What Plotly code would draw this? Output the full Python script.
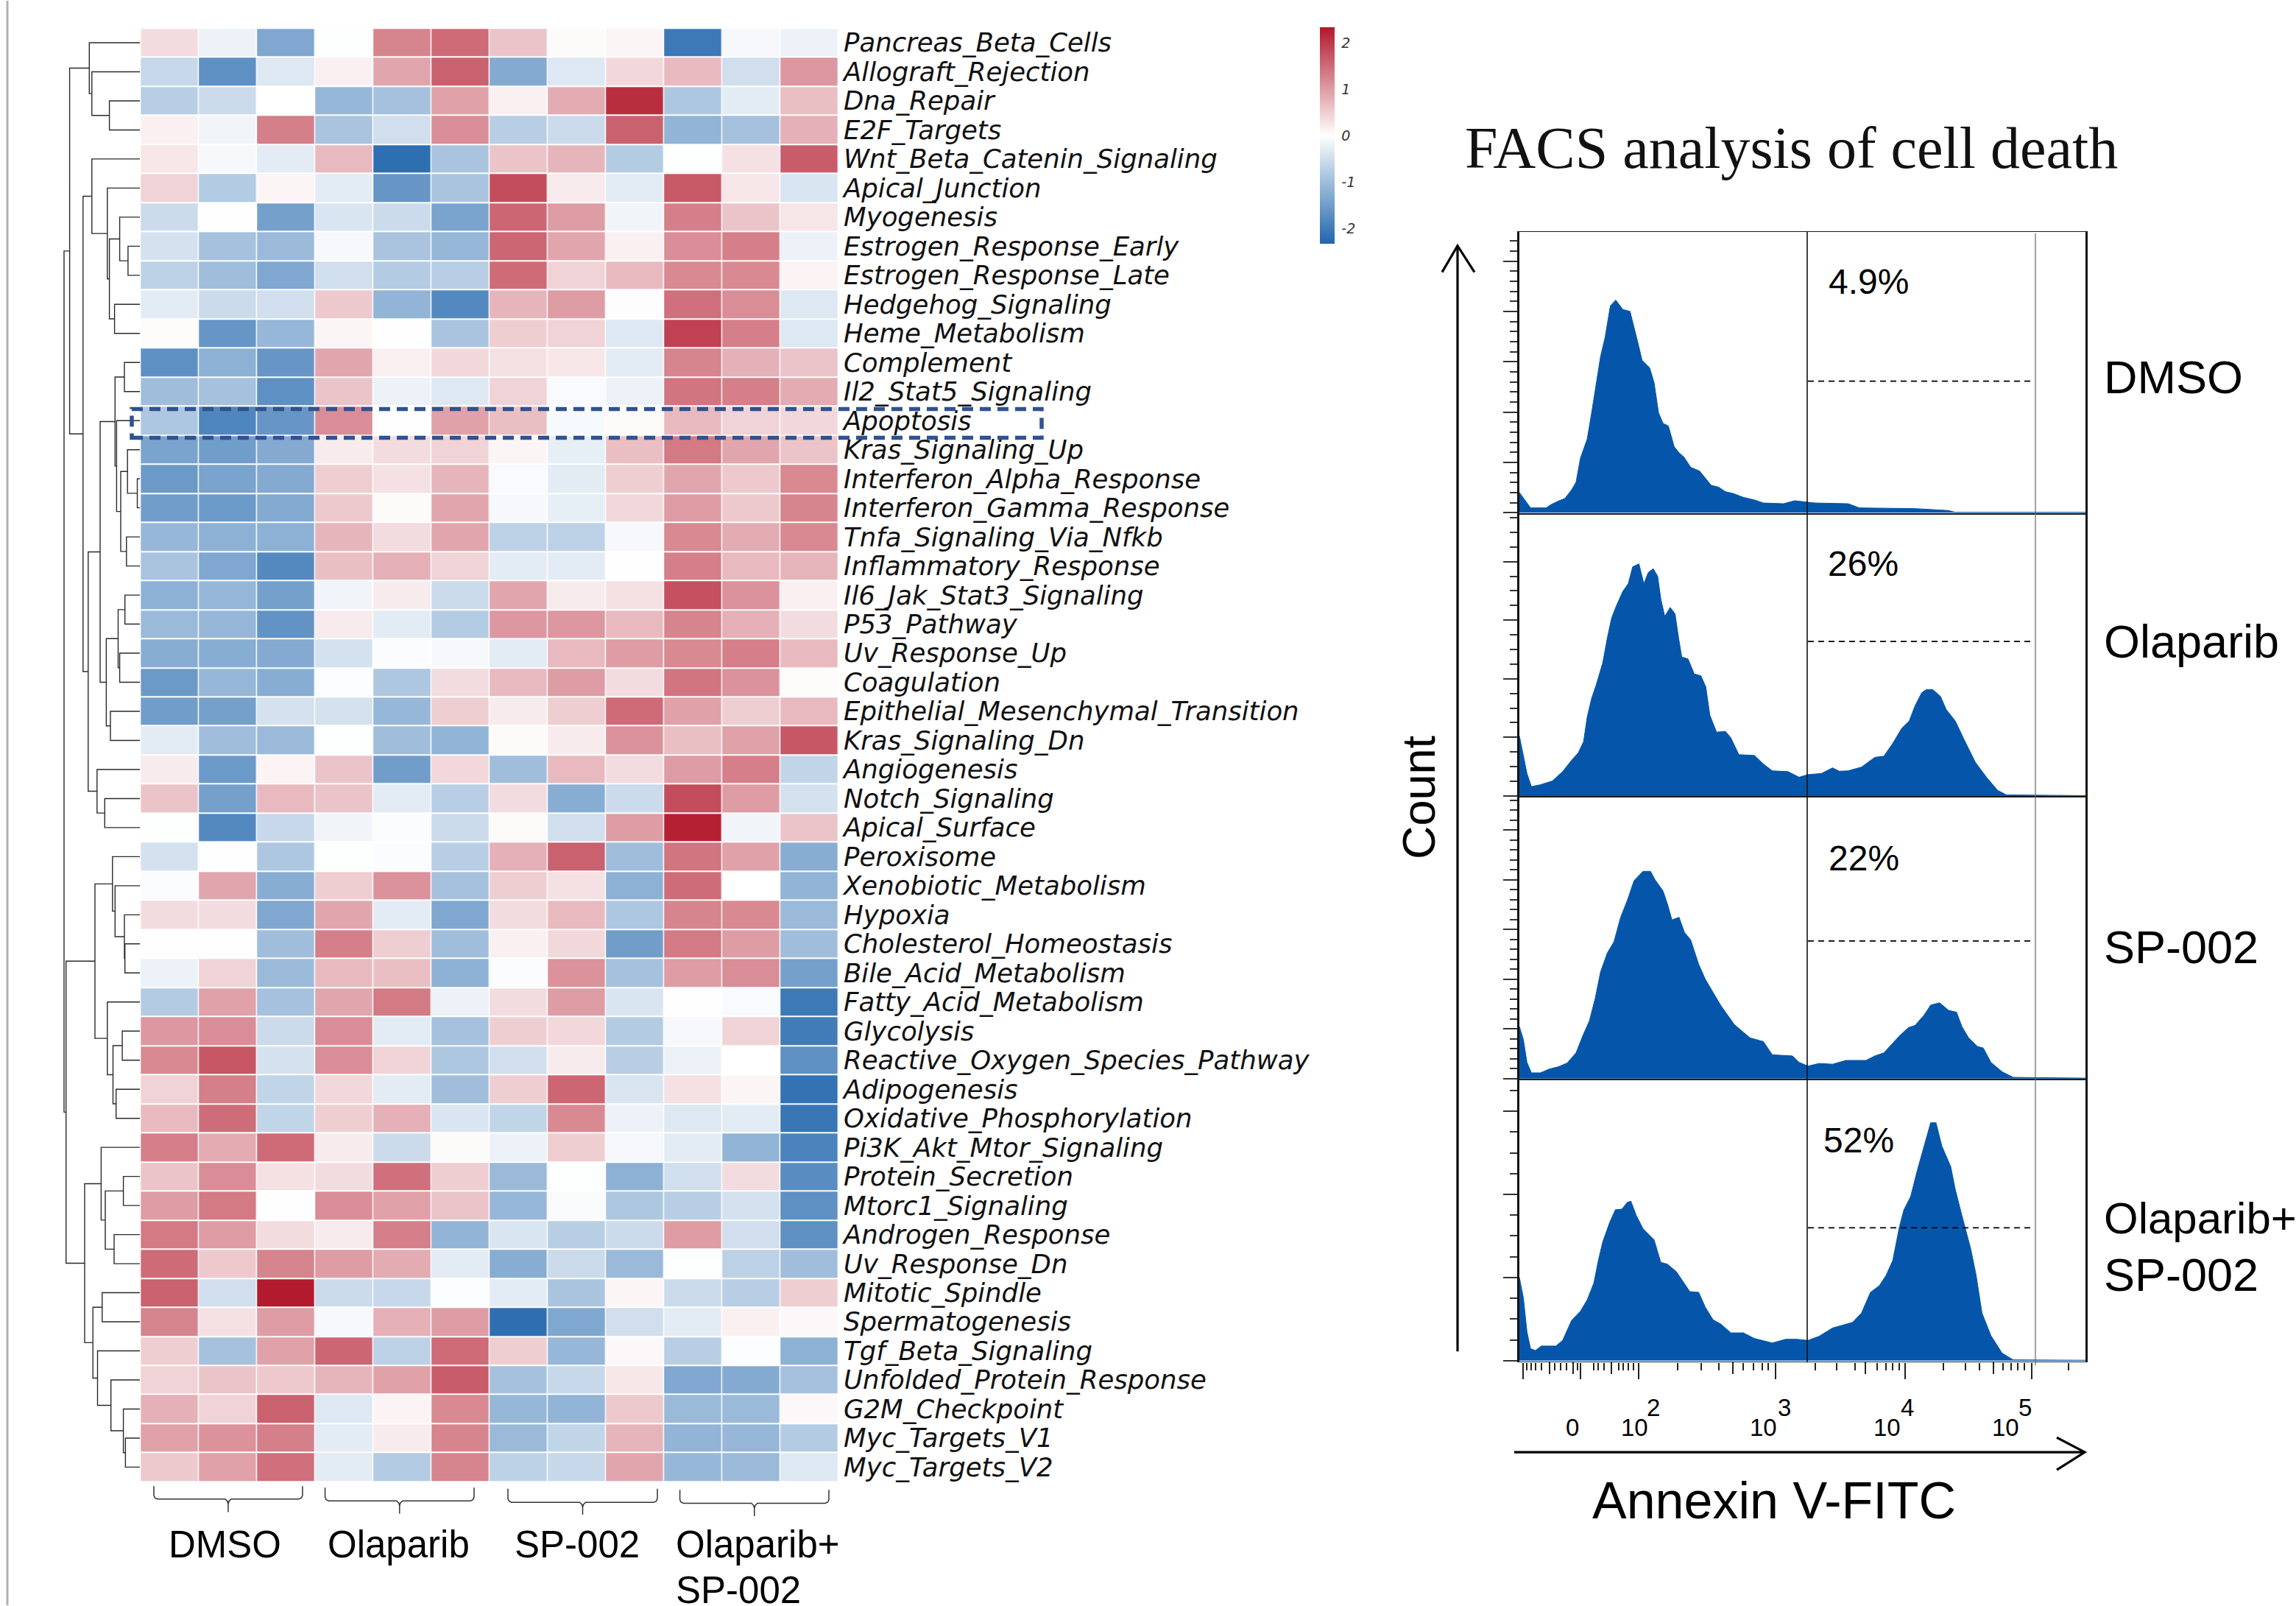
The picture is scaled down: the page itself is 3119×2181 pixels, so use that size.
import numpy as np
import plotly.graph_objects as go

W, H = 3119, 2181

pathways = ["Pancreas_Beta_Cells","Allograft_Rejection","Dna_Repair","E2F_Targets","Wnt_Beta_Catenin_Signaling",
"Apical_Junction","Myogenesis","Estrogen_Response_Early","Estrogen_Response_Late","Hedgehog_Signaling",
"Heme_Metabolism","Complement","Il2_Stat5_Signaling","Apoptosis","Kras_Signaling_Up","Interferon_Alpha_Response",
"Interferon_Gamma_Response","Tnfa_Signaling_Via_Nfkb","Inflammatory_Response","Il6_Jak_Stat3_Signaling","P53_Pathway",
"Uv_Response_Up","Coagulation","Epithelial_Mesenchymal_Transition","Kras_Signaling_Dn","Angiogenesis","Notch_Signaling",
"Apical_Surface","Peroxisome","Xenobiotic_Metabolism","Hypoxia","Cholesterol_Homeostasis","Bile_Acid_Metabolism",
"Fatty_Acid_Metabolism","Glycolysis","Reactive_Oxygen_Species_Pathway","Adipogenesis","Oxidative_Phosphorylation",
"Pi3K_Akt_Mtor_Signaling","Protein_Secretion","Mtorc1_Signaling","Androgen_Response","Uv_Response_Dn","Mitotic_Spindle",
"Spermatogenesis","Tgf_Beta_Signaling","Unfolded_Protein_Response","G2M_Checkpoint","Myc_Targets_V1","Myc_Targets_V2"]

scores = [
[0.35,-0.2,-1.35,-0.02,1.25,1.5,0.6,0.05,0.1,-2.05,-0.1,-0.2],
[-0.6,-1.7,-0.35,0.15,0.9,1.6,-1.3,-0.35,0.4,0.7,-0.5,1.05],
[-0.75,-0.55,0,-1.1,-0.95,0.95,0.15,0.85,2.12,-0.85,-0.3,0.65],
[0.15,-0.15,1.3,-0.9,-0.5,1.15,-0.75,-0.55,1.6,-1.15,-0.95,0.8],
[0.25,-0.1,-0.3,0.7,-2.2,-0.9,0.6,0.75,-0.8,-0.02,0.3,1.65],
[0.45,-0.8,0.1,-0.3,-1.6,-0.9,1.8,0.2,-0.3,1.68,0.25,-0.4],
[-0.55,0.01,-1.45,-0.4,-0.55,-1.4,1.55,1.0,-0.15,1.3,0.6,0.25],
[-0.45,-0.95,-1.05,-0.1,-0.9,-1.1,1.55,0.9,0.15,1.15,1.3,-0.2],
[-0.7,-1.0,-1.35,-0.5,-0.8,-0.75,1.5,0.45,0.7,1.2,1.2,0.12],
[-0.3,-0.55,-0.5,0.55,-1.15,-1.8,0.75,1.0,0.02,1.45,1.15,-0.35],
[0.04,-1.6,-1.1,0.1,0.01,-0.9,0.5,0.45,-0.35,1.92,1.3,-0.35],
[-1.7,-1.2,-1.6,0.9,0.15,0.4,0.3,0.25,-0.3,1.25,0.8,0.6],
[-1.0,-0.95,-1.7,0.6,-0.2,-0.35,0.45,-0.07,-0.2,1.4,1.3,0.85],
[-0.85,-1.85,-1.6,1.15,-0.01,0.95,0.65,-0.08,0.05,0.7,0.45,0.4],
[-1.4,-1.5,-1.3,0.2,0.35,0.45,0.1,-0.25,0.65,1.35,0.9,0.6],
[-1.55,-1.4,-1.3,0.5,0.3,0.75,-0.07,-0.3,0.5,0.9,0.55,1.2],
[-1.5,-1.55,-1.3,0.55,0.05,0.9,-0.1,-0.25,0.4,1.0,0.55,1.25],
[-1.1,-1.2,-1.2,0.75,0.35,0.9,-0.7,-0.7,-0.1,1.2,0.85,1.2],
[-0.9,-1.35,-1.8,0.65,0.8,0.45,-0.3,-0.3,-0.01,1.3,0.7,0.75],
[-1.2,-1.1,-1.45,-0.15,0.2,-0.55,0.9,0.2,0.3,1.77,1.1,0.15],
[-1.05,-1.1,-1.65,0.2,-0.3,-0.8,1.05,1.05,0.7,1.25,0.8,0.35],
[-1.25,-1.25,-1.3,-0.45,-0.05,-0.1,-0.3,0.7,1.0,1.2,1.3,0.7],
[-1.55,-1.1,-1.25,-0.03,-0.85,0.35,0.7,1.0,0.35,1.4,1.1,0.04],
[-1.5,-1.45,-0.45,-0.45,-1.1,0.5,0.2,0.5,1.5,0.95,0.5,0.7],
[-0.3,-1.0,-1.05,-0.02,-1.0,-1.15,0.05,0.2,1.1,0.65,0.95,1.7],
[0.2,-1.55,0.12,0.6,-1.5,0.4,-1.0,0.7,0.35,1.0,1.3,-0.65],
[0.6,-1.45,0.7,0.6,-0.3,-0.75,0.35,-1.25,-0.55,1.8,1.0,-0.45],
[-0.02,-1.8,-0.6,-0.15,-0.05,-0.55,0.05,-0.5,1.0,2.25,-0.15,0.6],
[-0.45,0.01,-0.85,-0.02,-0.05,-0.75,0.8,1.6,-1.0,1.4,0.95,-1.25],
[-0.05,0.9,-1.25,0.5,1.1,-0.95,0.5,0.3,-1.2,1.48,0.0,-1.15],
[0.35,0.35,-1.35,0.9,-0.3,-1.35,0.35,0.7,-0.85,1.25,1.2,-1.05],
[-0.01,0.01,-1.0,1.3,0.5,-1.0,0.15,0.4,-1.5,1.35,1.0,-1.0],
[-0.2,0.45,-1.05,0.7,0.65,-1.2,-0.05,1.1,-0.95,1.0,1.15,-1.45],
[-0.8,0.95,-0.95,0.9,1.35,-0.2,0.35,1.0,-0.4,0.01,-0.07,-2.05],
[1.05,1.15,-0.55,1.15,-0.3,-0.95,0.5,0.4,-0.8,-0.1,0.45,-2.0],
[1.2,1.7,-0.45,1.15,0.45,-0.85,-0.5,0.2,-0.75,-0.2,0.0,-1.7],
[0.45,1.3,-0.65,0.4,-0.3,-1.0,0.5,1.55,-0.4,0.3,0.1,-2.15],
[0.7,1.48,-0.65,0.5,0.8,-0.4,-0.65,1.2,-0.2,-0.35,-0.3,-2.1],
[1.3,0.85,1.5,0.2,-0.55,0.05,-0.2,0.5,-0.1,-0.3,-1.15,-1.9],
[0.6,1.15,0.3,0.35,1.45,0.5,-1.05,-0.02,-1.2,-0.5,0.35,-1.75],
[1.0,1.35,-0.01,1.15,0.95,0.6,-1.1,-0.06,-0.85,-0.75,-0.45,-1.7],
[1.35,1.0,0.35,0.2,1.3,-1.15,-0.4,-0.75,-0.55,1.0,-0.5,-1.7],
[1.5,0.55,1.25,1.0,0.85,-0.3,-1.25,-0.55,-1.05,-0.02,-0.7,-1.0],
[1.6,-0.5,2.32,-0.55,-0.6,-0.03,-0.3,-0.9,0.1,-0.55,-0.75,0.5],
[1.25,0.3,1.0,-0.1,0.8,1.0,-2.2,-1.35,-0.5,-0.3,0.15,0.08],
[0.5,-0.95,0.95,1.55,-0.7,1.5,0.5,-1.1,0.08,-0.75,-0.03,-1.2],
[0.45,0.6,0.55,0.75,0.95,1.65,-0.95,-0.6,0.25,-1.35,-1.3,-0.95],
[0.8,0.45,1.6,-0.35,0.12,1.2,-1.1,-1.15,0.55,-1.05,-1.05,0.08],
[0.95,1.1,1.3,-0.3,0.2,1.25,-1.05,-0.65,0.75,-1.15,-1.1,-0.8],
[0.55,0.95,1.45,-0.3,-0.8,1.25,-0.7,-0.6,0.9,-1.1,-1.05,-0.35],
]

# Row clustering: each node is [child, child, merge distance]; leaves are row numbers.
upper_a = [0, [1, [2, 3, 41.4], 65.2], 68.7]
upper_b = [4, [5, [[6, [7, 8, 16.1], 27.4], [9, 10, 34.4], 41.4], 44.2], 65.2]
mid_g = [13, [[14, [15, 16, 3.5], 16.8], [17, 18, 18.2], 26.0], 31.6]
mid_f = [[11, 12, 21.0], mid_g, 33.7]
mid_h = [[[19, 20, 20.3], [21, 22, 27.4], 29.5], [23, 24, 40.0], 45.6]
mid_d = [mid_f, mid_h, 54.0]
mid_e = [25, [26, 27, 47.7], 58.2]
upper = [upper_a, [upper_b, [mid_d, mid_e, 70.2], 77.2], 95.4]
low_j = [28, [29, [30, [31, 32, 20.3], 21.0], 33.7], 37.2]
low_k = [33, [[34, 35, 23.9], [36, 37, 32.3], 36.5], 44.2]
low_o = [38, [[39, 40, 22.4], [41, 42, 35.0], 47.0], 52.6]
low_r = [45, [46, [47, [48, 49, 19.6], 22.4], 39.3], 57.5]
low_q = [[43, 44, 51.2], low_r, 63.8]
tree = [upper, [[low_j, low_k, 61.0], [low_o, low_q, 75.0], 100.3], 103.0]

group_names = ["DMSO", "Olaparib", "SP-002"]
group_last = ["Olaparib+", "SP-002"]
cbar_ticks = [2, 1, 0, -1, -2]
cbar_text = ["2", "1", "0", "-1", "-2"]
facs_title = "FACS analysis of cell death"

# FACS histograms: channel (arbitrary linear display channel) and count
ch_dmso = [0,8,17,25,60,70,87,102,117,127,137,152,162,172,182,192,204,216,232,248,257,267,275,292,302,312,322,334,347,357,369,384,404,417,430,447,462,480,502,527,547,592,617,662,737,762,887,962,977,1269]
ct_dmso = [54,41,24,13,13,21,31,38,61,81,146,196,266,346,416,466,551,566,541,536,496,446,406,386,346,266,238,231,176,161,148,121,111,91,73,68,56,51,41,34,26,24,32,26,24,13,11,6,1,1]
ch_ola = [0,8,17,27,47,74,97,117,132,144,152,162,172,187,197,207,217,232,244,254,268,279,289,300,310,317,326,338,349,357,364,378,392,407,418,427,442,462,474,492,527,547,567,602,627,647,677,702,717,737,767,797,817,837,857,874,887,902,912,927,944,957,977,997,1022,1047,1072,1092,1269]
ct_ola = [160,110,60,25,30,40,65,95,115,145,210,260,295,355,420,475,505,545,565,610,618,565,595,605,585,525,478,502,485,420,370,365,325,320,290,215,170,172,155,110,108,85,67,65,50,57,60,75,66,67,77,103,106,140,180,200,240,275,283,283,265,230,200,150,90,50,15,3,1]
ch_sp = [0,9,17,27,47,67,87,107,127,142,157,170,182,197,212,227,242,257,277,294,304,322,332,342,358,370,384,402,417,432,452,482,502,517,547,567,612,627,647,672,702,732,777,797,817,852,872,887,907,922,942,962,980,992,1007,1027,1040,1057,1082,1107,1269]
ct_sp = [138,103,43,15,15,25,31,41,68,113,153,213,283,333,363,428,473,525,550,550,528,498,463,421,428,388,368,303,263,233,193,143,123,108,98,63,60,43,33,40,38,48,48,60,68,113,135,141,168,195,201,181,176,138,108,85,81,43,18,3,1]
ch_combo = [0,9,17,25,36,49,82,97,117,137,152,167,177,187,202,215,230,242,250,262,277,302,317,332,352,382,402,417,434,452,474,502,527,567,597,622,647,672,702,747,767,787,807,822,837,852,862,877,892,907,922,934,947,967,977,992,1012,1024,1037,1057,1082,1107,1269]
ct_combo = [222,167,77,32,27,39,39,54,107,132,162,207,267,317,367,402,404,422,425,387,352,322,262,257,237,184,182,142,109,97,74,74,59,47,57,57,54,65,87,102,127,182,200,227,267,357,402,437,507,572,634,634,572,517,457,387,297,227,127,67,20,2,1]
panel_ch = [ch_dmso, ch_ola, ch_sp, ch_combo]
panel_ct = [ct_dmso, ct_ola, ct_sp, ct_combo]
panel_pct = ["4.9%", "26%", "22%", "52%"]

major_step = [134.0, 156.0, 132.0, 221.5]
minor_div = [5, 4, 5, 4]
x_tall = [9,137,267,574,864,1149]
x_mid = [67,120,207,478,776,1062]
x_short = [17,27,37,50,80,92,105,130,167,177,190,222,232,244,255,355,408,448,502,524,544,557,663,712,752,802,822,837,852,950,1000,1032,1084,1102,1117,1132,1231]


def px(x):
    return x / W


def py(y):
    return 1 - y / H


fig = go.Figure()
Z = np.array(scores)
HM_L, HM_R, HM_T, HM_B = 191.2, 1139.0, 37.3, 2013.0

colorscale = [[0, "#2166ac"], [0.5, "#ffffff"], [1, "#b2182b"]]
fig.add_trace(go.Heatmap(z=Z, x=list(range(12)), y=list(range(50)), zmin=-2.34, zmax=2.34,
                         colorscale=colorscale, xgap=1.5, ygap=2, hoverinfo="skip",
                         colorbar=dict(lenmode="pixels", len=294, thicknessmode="pixels", thickness=20,
                                       x=px(1793), xanchor="left", y=py(183.5), yanchor="middle", outlinewidth=0,
                                       tickmode="array", tickvals=cbar_ticks, ticktext=cbar_text,
                                       ticks="outside", ticklen=6, tickcolor="rgba(0,0,0,0)",
                                       xpad=0, ypad=0,
                                       tickfont=dict(family="DejaVu Sans", size=19, color="#333333", style="italic"))))
fig.update_layout(
    xaxis=dict(domain=[px(HM_L), px(HM_R)], range=[-0.5, 11.5], visible=False),
    yaxis=dict(domain=[py(HM_B), py(HM_T)], range=[49.5, -0.5], side="right", tickmode="array",
               tickvals=list(range(50)), ticktext=pathways, showgrid=False, zeroline=False, showline=False,
               ticks="", anchor="x", ticklabelstandoff=6,
               tickfont=dict(family="DejaVu Sans", size=35.5, color="#111111", style="italic")))

# Dendrogram
dx, dy = [], []


def walk(node):
    if isinstance(node, int):
        return node, 0.0
    y1, d1 = walk(node[0])
    y2, d2 = walk(node[1])
    d = node[2]
    dx.extend([d1, d, d, d2, None])
    dy.extend([y1, y1, y2, y2, None])
    return (y1 + y2) / 2, d


walk(tree)
fig.add_trace(go.Scatter(x=dx, y=dy, mode="lines", line=dict(color="#2a2a2a", width=1.4),
                         xaxis="x2", yaxis="y2", hoverinfo="skip", showlegend=False))
fig.update_layout(
    xaxis2=dict(domain=[px(60), px(190)], range=[130, 0], visible=False, anchor="y2"),
    yaxis2=dict(domain=[py(HM_B), py(HM_T)], range=[49.5, -0.5], visible=False, anchor="x2"))

# FACS panels
FX0, FX1 = 2064, 2833
panel_tops = [314, 698, 1082, 1466]
panel_bots = [698, 1082, 1466, 1850]
panel_ranges = [[-4, 748], [-2, 750], [-2, 748], [-3, 750]]
for i in range(4):
    n = i + 3
    sx, sy = f"x{n}", f"y{n}"
    fig.add_trace(go.Scatter(x=panel_ch[i], y=panel_ct[i], mode="lines", fill="tozeroy", fillcolor="#0556ab",
                             line=dict(color="#0556ab", width=1), xaxis=sx, yaxis=sy,
                             hoverinfo="skip", showlegend=False))
    majors = np.arange(0, 745, major_step[i])
    minors = np.arange(0, 745, major_step[i] / minor_div[i])
    xa = dict(domain=[px(FX0), px(FX1)], range=[0, 1269], anchor=sy, showgrid=False, zeroline=False,
              showline=True, mirror=True, linecolor="#1a1a1a", linewidth=1.4, showticklabels=False)
    if i == 3:
        xa.update(tickmode="array", tickvals=x_tall, ticks="outside", ticklen=22, tickwidth=1.5, tickcolor="#222222",
                  minor=dict(tickmode="array", tickvals=x_short, ticks="outside", ticklen=10, tickwidth=1.5,
                             tickcolor="#222222"))
    else:
        xa.update(ticks="")
    ya = dict(domain=[py(panel_bots[i]), py(panel_tops[i])], range=panel_ranges[i], anchor=sx, showgrid=False,
              zeroline=False, showline=True, mirror=True, linecolor="#111111", linewidth=2.5, showticklabels=False,
              tickmode="array", tickvals=list(majors), ticks="outside", ticklen=19, tickwidth=1.8, tickcolor="#333333",
              minor=dict(tickmode="array", tickvals=list(minors), ticks="outside", ticklen=10, tickwidth=1.8,
                         tickcolor="#333333"))
    fig.update_layout(**{f"xaxis{n}": xa, f"yaxis{n}": ya})

# middle-length ticks on the bottom axis
fig.add_trace(go.Scatter(x=[0], y=[0], mode="none", xaxis="x7", yaxis="y6", hoverinfo="skip", showlegend=False))
fig.update_layout(xaxis7=dict(domain=[px(FX0), px(FX1)], range=[0, 1269], anchor="y6", overlaying="x6",
                              showgrid=False, zeroline=False, showline=False, showticklabels=False,
                              tickmode="array", tickvals=x_mid, ticks="outside", ticklen=16, tickwidth=1.5,
                              tickcolor="#222222"))

shapes, ann = [], []


def path_shape(points, color="#222222", width=2.0):
    d = "M " + " L ".join(f"{px(a):.6f},{py(b):.6f}" for a, b in points)
    shapes.append(dict(type="path", path=d, xref="paper", yref="paper", line=dict(color=color, width=width)))


def line_shape(x0, y0, x1, y1, color="#000000", width=1.5, dash="solid"):
    shapes.append(dict(type="line", xref="paper", yref="paper", x0=px(x0), y0=py(y0), x1=px(x1), y1=py(y1),
                       line=dict(color=color, width=width, dash=dash)))


def text(x, y, s, size, family="Liberation Sans", xanchor="center", color="#000000", angle=0):
    ann.append(dict(xref="paper", yref="paper", x=px(x), y=py(y), text=s, showarrow=False, xanchor=xanchor,
                    yanchor="middle", textangle=angle, align="left",
                    font=dict(family=family, size=size, color=color)))


# page edge line
line_shape(10, 0, 10, 2181, color="#b0b0b0", width=3)

# highlighted row box
shapes.append(dict(type="rect", xref="paper", yref="paper", x0=px(179), x1=px(1415), y0=py(594), y1=py(555),
                   line=dict(color="#2f5290", width=5.5, dash="15px,9px")))

# group braces
for x0, x1, y0, y1, y2 in [(209, 411, 2019, 2036.6, 2054.5), (441.6, 644, 2021, 2039, 2056.5),
                           (690, 893, 2022.5, 2041, 2058), (923.6, 1126, 2024, 2042.4, 2060)]:
    c = (x0 + x1) / 2
    pts = [(x0, y0), (x0, y1 - 5), (x0 + 1.5, y1 - 1.5), (x0 + 5, y1), (c - 4, y1), (c - 1, y1 + 3), (c, y1 + 7), (c, y2),
           (c, y1 + 7), (c + 1, y1 + 3), (c + 4, y1), (x1 - 5, y1), (x1 - 1.5, y1 - 1.5), (x1, y1 - 5), (x1, y0)]
    path_shape(pts, color="#333333", width=1.5)

text(305, 2098, group_names[0], 51)
text(541, 2098, group_names[1], 51)
text(784, 2098, group_names[2], 51)
text(916, 2098, group_last[0], 51, xanchor="left")
text(916, 2160, group_last[1], 51, xanchor="left")

text(1988, 200, facs_title, 80, family="Liberation Serif", xanchor="left", color="#111111")
text(1927, 1083, "Count", 63, angle=-90)
text(2410, 2039, "Annexin V-FITC", 70)

# gates
line_shape(2455, 314, 2455, 1851, color="#111111", width=1.6)
line_shape(2765, 316, 2765, 1855, color="#666666", width=1.2)
for y in [517, 871, 1278, 1668]:
    line_shape(2456, y, 2761, y, color="#000000", width=1.8, dash="8px,6px")

for (x, y), s in zip([(2538, 382), (2531, 765), (2532, 1166), (2525, 1549)], panel_pct):
    text(x, y, s, 48)

for y, s, size in [(511, "DMSO", 63), (871, "Olaparib", 63), (1286, "SP-002", 63), (1655, "Olaparib+", 60), (1732, "SP-002", 63)]:
    text(2856, y, s, size, xanchor="left")

# arrows
line_shape(1980, 333, 1980, 1836, width=3.2)
path_shape([(1959, 369), (1980, 333), (2003, 369)], color="#000000", width=3.2)
line_shape(2057, 1973, 2830, 1973, width=3.2)
path_shape([(2794, 1953), (2832, 1973), (2794, 1997)], color="#000000", width=3.2)

# log-axis tick labels
text(2136, 1939, "0", 33)
for x0, x1, e in [(2220, 2246, "2"), (2395, 2424, "3"), (2563, 2591, "4"), (2724, 2751, "5")]:
    text(x0, 1939, "10", 33)
    text(x1, 1912, e, 33)

fig.update_layout(width=W, height=H, autosize=False, margin=dict(l=0, r=0, t=0, b=0), paper_bgcolor="white",
                  plot_bgcolor="white", showlegend=False, shapes=shapes, annotations=ann)

fig.write_html("out.html", config={"displayModeBar": False}, post_script="document.body.style.margin='0';")
